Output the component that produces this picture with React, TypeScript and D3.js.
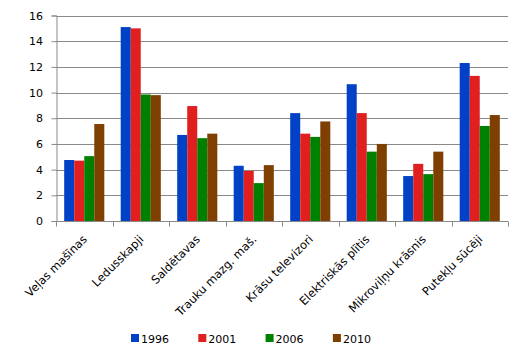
import * as d3 from 'd3'
import { useRef, useEffect } from 'react'

const categories = [
  'Veļas mašīnas',
  'Ledusskapji',
  'Saldētavas',
  'Trauku mazg. maš.',
  'Krāsu televizori',
  'Elektriskās plītis',
  'Mikroviļņu krāsnis',
  'Putekļu sūcēji',
]
const years = ['1996', '2001', '2006', '2010']
const values1996 = [4.75, 15.1, 6.7, 4.3, 8.4, 10.65, 3.5, 12.3]
const values2001 = [4.7, 15.0, 8.95, 3.9, 6.8, 8.4, 4.45, 11.3]
const values2006 = [5.05, 9.85, 6.45, 2.95, 6.55, 5.4, 3.65, 7.4]
const values2010 = [7.55, 9.8, 6.8, 4.35, 7.75, 6.0, 5.4, 8.25]
const yTicks = [0, 2, 4, 6, 8, 10, 12, 14, 16]
const colors = ['#0041c6', '#e21f1f', '#008000', '#7f3f00']

const App = () => {
  const chartSvg = useRef(null)

  const width = 517
  const height = 353
  const left = 56
  const right = 508
  const top = 15.5
  const bottom = 221
  const font = 'Tahoma, "DejaVu Sans", sans-serif'

  useEffect(() => {
    const svg = d3.select(chartSvg.current)
    svg.selectAll('*').remove() // clear

    const series = [values1996, values2001, values2006, values2010]

    const x0 = d3.scaleBand().domain(categories).range([left, right]).padding(0)
    const bw = x0.bandwidth()
    const x1 = d3.scaleBand().domain(years).range([bw * 0.145, bw * 0.855]).padding(0)
    const y = d3.scaleLinear().domain([0, 16]).range([bottom, top])

    // grid lines
    svg
      .append('g')
      .selectAll('line')
      .data(yTicks.slice(1))
      .enter()
      .append('line')
      .attr('x1', left)
      .attr('x2', right)
      .attr('y1', d => Math.round(y(d)) + 0.5)
      .attr('y2', d => Math.round(y(d)) + 0.5)
      .attr('stroke', '#898989')
      .attr('stroke-width', 1)

    // bars
    const groups = svg
      .append('g')
      .selectAll('g')
      .data(categories)
      .enter()
      .append('g')
      .attr('transform', d => `translate(${x0(d)},0)`)

    groups
      .selectAll('rect')
      .data((d, i) => years.map((yr, j) => ({ yr, v: series[j][i], c: colors[j] })))
      .enter()
      .append('rect')
      .attr('x', d => x1(d.yr))
      .attr('y', d => y(d.v))
      .attr('width', x1.bandwidth())
      .attr('height', d => y(0) - y(d.v))
      .attr('fill', d => d.c)

    // y axis
    const yAxis = d3
      .axisLeft(y)
      .tickValues(yTicks)
      .tickSize(5)
      .tickPadding(8.5)
      .tickFormat(d3.format('d'))
    const gy = svg
      .append('g')
      .attr('transform', `translate(${left + 0.5},0)`)
      .call(yAxis)
    gy.selectAll('path,line').attr('stroke', '#898989')
    gy.selectAll('text')
      .attr('font-family', font)
      .attr('font-size', 11)
      .attr('fill', '#000')

    // x axis
    const gx = svg.append('g').attr('transform', `translate(0,${Math.round(bottom) + 0.5})`)
    gx.append('line')
      .attr('x1', left)
      .attr('x2', right)
      .attr('stroke', '#898989')
    gx.selectAll('line.tick')
      .data(categories.map(c => x0(c)).concat([right]))
      .enter()
      .append('line')
      .attr('class', 'tick')
      .attr('x1', d => Math.round(d) + 0.5)
      .attr('x2', d => Math.round(d) + 0.5)
      .attr('y1', 0)
      .attr('y2', 5)
      .attr('stroke', '#898989')

    gx.selectAll('text')
      .data(categories)
      .enter()
      .append('text')
      .attr('transform', d => `translate(${x0(d) + bw / 2 + 3.5},18.5) rotate(-45)`)
      .attr('text-anchor', 'end')
      .attr('font-family', font)
      .attr('font-size', 11.5)
      .attr('fill', '#000')
      .text(d => d)

    // legend
    const legend = svg
      .append('g')
      .selectAll('g')
      .data(years)
      .enter()
      .append('g')
      .attr('transform', (d, i) => `translate(${131 + i * 67.3},334)`)
    legend
      .append('rect')
      .attr('width', 8)
      .attr('height', 8)
      .attr('fill', (d, i) => colors[i])
    legend
      .append('text')
      .attr('x', 10)
      .attr('y', 8.5)
      .attr('font-family', font)
      .attr('font-size', 11)
      .attr('fill', '#000')
      .text(d => d)
  }, [])

  return (
    <svg
      ref={chartSvg}
      width={width}
      height={height}
      style={{ position: 'absolute', left: 0, top: 0, background: '#fff' }}
    ></svg>
  )
}

export default App
